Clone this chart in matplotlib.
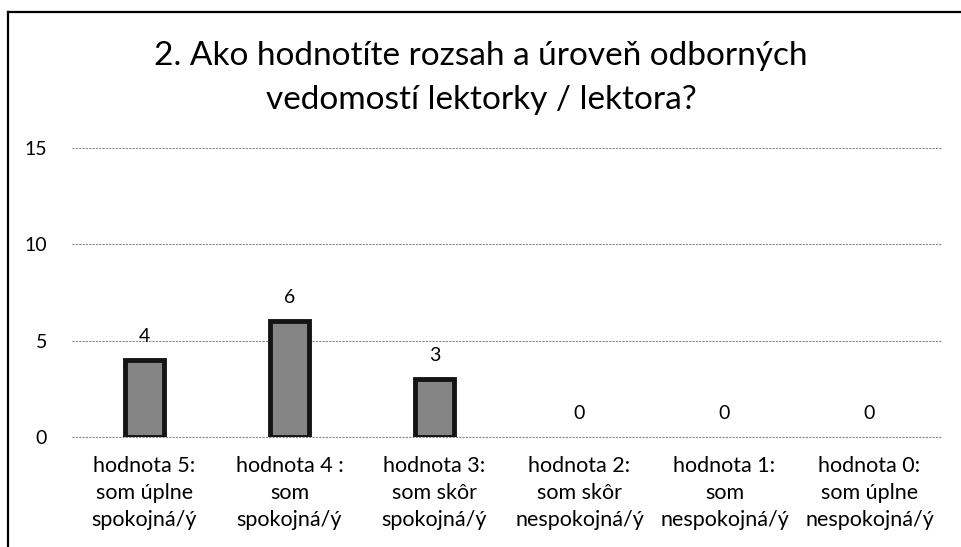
import matplotlib.pyplot as plt
from matplotlib.lines import Line2D

plt.rcParams['font.family'] = ['Lato', 'DejaVu Sans']

categories = ['hodnota 5:\nsom úplne\nspokojná/ý',
              'hodnota 4 :\nsom\nspokojná/ý',
              'hodnota 3:\nsom skôr\nspokojná/ý',
              'hodnota 2:\nsom skôr\nnespokojná/ý',
              'hodnota 1:\nsom\nnespokojná/ý',
              'hodnota 0:\nsom úplne\nnespokojná/ý']
values = [4, 6, 3, 0, 0, 0]
yticks = [0, 5, 10, 15]
title = '2. Ako hodnotíte rozsah a úroveň odborných\nvedomostí lektorky / lektora?'

fig = plt.figure(figsize=(9.62, 5.47), dpi=100)
ax = fig.add_axes([72 / 962, 1 - 437 / 547, 870 / 962, 289 / 547])

x = list(range(len(categories)))
lws = [3.5 if v > 0 else 0 for v in values]
ax.bar(x, values, width=0.27, color='#858585', edgecolor='#141414', linewidth=lws, zorder=3)
for xi, v in zip(x, values):
    ax.annotate(str(v), (xi, v), xytext=(0, 11), textcoords='offset points',
                ha='center', va='bottom', fontsize=14)

ax.set_xlim(-0.5, 5.5)
ax.set_ylim(0, 15)
ax.set_yticks(yticks)
ax.set_xticks(x)
ax.set_xticklabels(categories, fontsize=15.5, linespacing=1.42)
ax.tick_params(axis='both', length=0)
ax.tick_params(axis='y', pad=18, labelsize=14)
ax.tick_params(axis='x', pad=14)
ax.grid(axis='y', color='#8a8a8a', linewidth=0.8, linestyle=(0, (2, 1)))
ax.axhline(0, color='#8a8a8a', linewidth=0.8, linestyle=(0, (2, 1)), clip_on=False, zorder=1)
ax.set_axisbelow(True)
for s in ax.spines.values():
    s.set_visible(False)

fig.text(0.5, 1 - 78 / 547, title, ha='center', va='center', fontsize=24, linespacing=1.6)

# scanned frame: only left and top edges visible
fig.add_artist(Line2D([8 / 962, 8 / 962], [0, 1 - 12 / 547], color='black', lw=1.6))
fig.add_artist(Line2D([8 / 962, 1], [1 - 12 / 547, 1 - 12 / 547], color='black', lw=1.6))

fig.savefig('out.png', dpi=100)
